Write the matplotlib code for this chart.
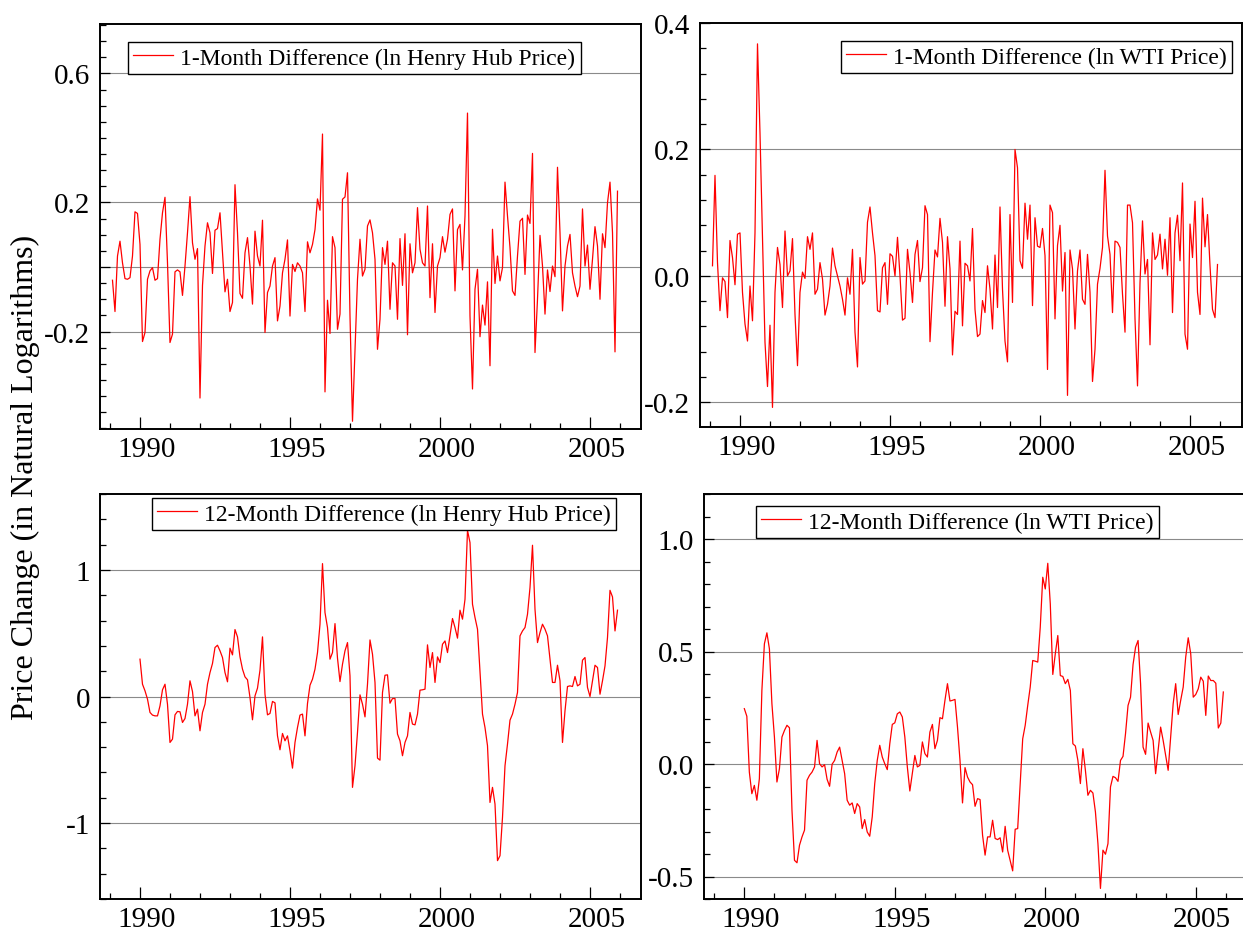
import numpy as np
import matplotlib.pyplot as plt
import matplotlib.transforms as mtransforms
from matplotlib.ticker import MultipleLocator

plt.rcParams['font.family'] = ['Liberation Serif', 'DejaVu Serif']

# 1-month log differences, Feb 1989 - Dec 2005
hh_1m = [
    -0.041, -0.138, 0.034, 0.080, 0.013, -0.036, -0.038, -0.033, 0.034, 0.171, 0.166,
    0.070, -0.231, -0.203, -0.038, -0.012, -0.002, -0.041, -0.036, 0.086, 0.168, 0.216, 0.013,
    -0.234, -0.208, -0.015, -0.009, -0.015, -0.088, 0.003, 0.106, 0.218, 0.075, 0.024, 0.057,
    -0.406, -0.057, 0.065, 0.137, 0.106, -0.020, 0.114, 0.119, 0.168, 0.044, -0.077, -0.038,
    -0.138, -0.110, 0.255, 0.106, -0.082, -0.097, 0.044, 0.091, 0.003, -0.115, 0.111, 0.034,
    0.003, 0.145, -0.203, -0.079, -0.059, 0.003, 0.029, -0.167, -0.121, -0.018, 0.024, 0.084,
    -0.152, 0.008, -0.014, 0.013, 0.003, -0.018, -0.138, 0.078, 0.044, 0.070, 0.116, 0.211,
    0.176, 0.412, -0.387, -0.103, -0.206, 0.094, 0.060, -0.193, -0.146, 0.210, 0.217, 0.292,
    -0.152, -0.478, -0.255, -0.038, 0.086, -0.028, -0.007, 0.127, 0.146, 0.106, 0.024, -0.255,
    -0.162, 0.060, 0.008, 0.080, -0.131, 0.013, 0.003, -0.162, 0.088, -0.057, 0.103, -0.210,
    0.072, -0.018, 0.013, 0.184, 0.055, 0.013, 0.003, 0.189, -0.095, 0.072, -0.141, 0.003,
    0.029, 0.094, 0.046, 0.086, 0.163, 0.180, -0.074, 0.116, 0.132, -0.009, 0.158, 0.477,
    -0.152, -0.378, -0.069, -0.007, -0.216, -0.118, -0.180, -0.046, -0.306, 0.117, -0.051, 0.034,
    -0.043, -0.002, 0.263, 0.158, 0.060, -0.074, -0.088, 0.034, 0.142, 0.151, -0.023, 0.161,
    0.135, 0.352, -0.265, -0.100, 0.098, 0.003, -0.146, -0.009, -0.076, 0.003, -0.030, 0.309,
    0.106, -0.136, 0.003, 0.065, 0.101, -0.018, -0.059, -0.092, -0.059, 0.180, 0.003, 0.068,
    -0.069, 0.024, 0.125, 0.065, -0.100, 0.103, 0.060, 0.199, 0.263, 0.106, -0.263, 0.235,
]

wti_1m = [
    0.016, 0.159, 0.021, -0.055, -0.003, -0.009, -0.066, 0.056, 0.029, -0.014, 0.066,
    0.068, -0.026, -0.076, -0.103, -0.016, -0.071, 0.068, 0.367, 0.226, 0.058, -0.105, -0.175,
    -0.078, -0.208, -0.026, 0.045, 0.018, -0.050, 0.071, 0.000, 0.008, 0.059, -0.061, -0.142,
    -0.026, 0.006, -0.004, 0.062, 0.042, 0.068, -0.029, -0.021, 0.021, -0.005, -0.062, -0.045,
    -0.016, 0.044, 0.016, 0.000, -0.016, -0.037, -0.062, -0.003, -0.029, 0.042, -0.089, -0.144,
    0.029, -0.013, -0.008, 0.085, 0.109, 0.068, 0.032, -0.055, -0.057, 0.013, 0.021, -0.045,
    0.035, 0.031, 0.000, 0.061, 0.000, -0.070, -0.067, 0.042, 0.005, -0.042, 0.034, 0.056,
    -0.009, 0.013, 0.111, 0.097, -0.104, -0.026, 0.041, 0.030, 0.091, 0.053, -0.048, 0.062,
    0.011, -0.125, -0.056, -0.061, 0.055, -0.079, 0.020, 0.016, -0.008, 0.075, -0.053, -0.096,
    -0.092, -0.039, -0.058, 0.016, -0.021, -0.084, 0.033, -0.050, 0.109, -0.021, -0.103, -0.136,
    0.097, -0.042, 0.200, 0.171, 0.024, 0.012, 0.115, 0.058, 0.112, -0.047, 0.092, 0.047,
    0.045, 0.075, 0.032, -0.148, 0.112, 0.100, -0.068, 0.048, 0.080, -0.024, 0.037, -0.189,
    0.041, 0.011, -0.084, 0.008, 0.041, -0.037, -0.045, 0.034, -0.026, -0.167, -0.116, -0.013,
    0.012, 0.045, 0.167, 0.063, 0.034, -0.058, 0.055, 0.053, 0.045, -0.029, -0.089, 0.112,
    0.112, 0.084, -0.068, -0.174, -0.011, 0.087, 0.003, 0.026, -0.109, 0.068, 0.026, 0.033,
    0.066, 0.011, 0.058, 0.001, 0.092, -0.058, 0.068, 0.096, 0.024, 0.147, -0.092, -0.116,
    0.082, 0.029, 0.118, -0.026, -0.061, 0.123, 0.046, 0.097, 0.016, -0.053, -0.066, 0.018,
]

# 12-month log differences, Jan 1990 - Dec 2005
hh_12m = [
    0.295, 0.097, 0.045, -0.021, -0.126, -0.147, -0.153, -0.153, -0.074, 0.053, 0.097, -0.061,
    -0.363, -0.337, -0.145, -0.118, -0.121, -0.205, -0.174, -0.061, 0.124, 0.039, -0.153, -0.100,
    -0.271, -0.126, -0.061, 0.097, 0.189, 0.261, 0.387, 0.405, 0.361, 0.308, 0.189, 0.116,
    0.382, 0.329, 0.529, 0.471, 0.313, 0.216, 0.155, 0.132, -0.008, -0.184, 0.005, 0.066,
    0.208, 0.471, 0.018, -0.145, -0.134, -0.039, -0.050, -0.311, -0.421, -0.292, -0.350, -0.311,
    -0.429, -0.566, -0.363, -0.245, -0.147, -0.139, -0.311, -0.055, 0.089, 0.137, 0.216, 0.347,
    0.571, 1.050, 0.663, 0.545, 0.295, 0.347, 0.576, 0.303, 0.118, 0.255, 0.361, 0.426,
    0.163, -0.718, -0.547, -0.284, 0.013, -0.061, -0.161, 0.097, 0.447, 0.334, 0.111, -0.487,
    -0.503, 0.032, 0.168, 0.171, -0.053, -0.016, -0.016, -0.297, -0.350, -0.468, -0.363, -0.311,
    -0.126, -0.218, -0.224, -0.139, 0.050, 0.053, 0.058, 0.408, 0.229, 0.347, 0.111, 0.313,
    0.268, 0.413, 0.439, 0.347, 0.479, 0.616, 0.545, 0.461, 0.682, 0.611, 0.768, 1.313,
    1.216, 0.729, 0.624, 0.532, 0.203, -0.139, -0.245, -0.389, -0.837, -0.718, -0.850, -1.297,
    -1.258, -0.955, -0.547, -0.376, -0.187, -0.139, -0.061, 0.032, 0.479, 0.518, 0.545, 0.650,
    0.861, 1.195, 0.689, 0.426, 0.505, 0.571, 0.532, 0.479, 0.295, 0.111, 0.111, 0.247,
    0.124, -0.363, -0.113, 0.079, 0.084, 0.079, 0.158, 0.084, 0.097, 0.287, 0.308, 0.071,
    0.000, 0.124, 0.247, 0.229, 0.018, 0.124, 0.242, 0.466, 0.839, 0.787, 0.518, 0.682,
]

wti_12m = [
    0.246, 0.212, -0.036, -0.132, -0.095, -0.161, -0.065, 0.327, 0.534, 0.583, 0.512, 0.268,
    0.120, -0.080, -0.021, 0.120, 0.149, 0.172, 0.161, -0.206, -0.428, -0.439, -0.361, -0.324,
    -0.294, -0.072, -0.050, -0.036, -0.013, 0.105, 0.001, -0.013, -0.003, -0.068, -0.099, -0.001,
    0.016, 0.053, 0.075, 0.016, -0.043, -0.161, -0.183, -0.173, -0.220, -0.176, -0.191, -0.287,
    -0.247, -0.302, -0.321, -0.235, -0.087, 0.016, 0.083, 0.031, 0.001, -0.025, 0.090, 0.176,
    0.183, 0.223, 0.231, 0.209, 0.120, -0.013, -0.120, -0.040, 0.038, -0.013, -0.006, 0.098,
    0.046, 0.031, 0.142, 0.176, 0.068, 0.105, 0.206, 0.201, 0.283, 0.357, 0.280, 0.283,
    0.287, 0.164, 0.016, -0.173, -0.016, -0.058, -0.080, -0.092, -0.188, -0.154, -0.158, -0.317,
    -0.405, -0.324, -0.324, -0.250, -0.331, -0.336, -0.328, -0.391, -0.277, -0.383, -0.428, -0.475,
    -0.290, -0.287, -0.087, 0.112, 0.172, 0.260, 0.342, 0.460, 0.457, 0.453, 0.608, 0.830,
    0.778, 0.892, 0.712, 0.398, 0.490, 0.571, 0.393, 0.389, 0.357, 0.376, 0.327, 0.090,
    0.080, 0.016, -0.087, 0.068, -0.028, -0.139, -0.117, -0.129, -0.213, -0.354, -0.553, -0.383,
    -0.401, -0.354, -0.102, -0.055, -0.061, -0.077, 0.016, 0.034, 0.135, 0.260, 0.297, 0.442,
    0.519, 0.549, 0.357, 0.075, 0.043, 0.182, 0.142, 0.105, -0.043, 0.061, 0.164, 0.105,
    0.038, -0.028, 0.120, 0.268, 0.357, 0.220, 0.283, 0.342, 0.475, 0.561, 0.490, 0.297,
    0.309, 0.334, 0.386, 0.368, 0.216, 0.391, 0.371, 0.371, 0.359, 0.160, 0.182, 0.320,
]

# dates as decimal years
t_1m = 1989 + (1 + np.arange(len(hh_1m))) / 12.0
t_12m = 1990 + np.arange(len(hh_12m)) / 12.0

year_ticks = [1990, 1995, 2000, 2005]

W, H = 1243, 937
fig = plt.figure(figsize=(W / 100, H / 100), dpi=100)


def px_rect(left, top, right, bottom):
    return [left / W, 1 - bottom / H, (right - left) / W, (bottom - top) / H]


def panel(rect, t, y, label, xlim, ylim, yticks, ylabels, grid, minor, leg_xy):
    ax = fig.add_axes(px_rect(*rect))
    for g in grid:
        ax.axhline(g, color='#8a8a8a', lw=0.8, zorder=1)
    ax.plot(t, y, color='red', lw=0.9, label=label, zorder=3)
    ax.set_xlim(*xlim)
    ax.set_ylim(*ylim)

    ax.set_xticks(year_ticks)
    ax.set_xticklabels([str(v) for v in year_ticks])
    ax.xaxis.set_minor_locator(MultipleLocator(1))
    ax.set_yticks(yticks)
    ax.set_yticklabels(ylabels)
    ax.yaxis.set_minor_locator(MultipleLocator(minor))

    ax.tick_params(which='both', direction='in', top=False, right=False,
                   labelsize=21, width=0.9, color='black')
    ax.tick_params(axis='x', which='major', length=8.5, pad=5)
    ax.tick_params(axis='y', which='major', length=7, pad=7)
    ax.tick_params(which='minor', length=4.3)
    for s in ax.spines.values():
        s.set_linewidth(1.4)

    # year labels sit a little right of their ticks in the original
    shift = mtransforms.ScaledTranslation(6.5 / 100, 0, fig.dpi_scale_trans)
    for lab in ax.get_xticklabels():
        lab.set_transform(lab.get_transform() + shift)

    leg = ax.legend(loc='upper left', bbox_to_anchor=(leg_xy[0] / W, 1 - leg_xy[1] / H),
                    bbox_transform=fig.transFigure, fontsize=17, frameon=True,
                    fancybox=False, edgecolor='black', framealpha=1, borderpad=0.22,
                    handlelength=1.7, handletextpad=0.3, borderaxespad=0)
    leg.get_frame().set_linewidth(1.0)
    return ax


panel((100, 25, 641, 430), t_1m, hh_1m, '1-Month Difference (ln Henry Hub Price)',
      (1988.667, 2006.7), (-0.502, 0.753), [-0.2, 0.0, 0.2, 0.6], ['-0.2', '', '0.2', '0.6'],
      [-0.2, 0.0, 0.2, 0.6], 0.05, (128, 43))

panel((700, 24, 1242, 428), t_1m, wti_1m, '1-Month Difference (ln WTI Price)',
      (1988.667, 2006.733), (-0.239, 0.4), [-0.2, 0.0, 0.2, 0.4], ['-0.2', '0.0', '0.2', '0.4'],
      [-0.2, 0.0, 0.2], 0.04, (841, 42))

panel((100, 495, 641, 900), t_12m, hh_12m, '12-Month Difference (ln Henry Hub Price)',
      (1988.667, 2006.7), (-1.6, 1.6), [-1, 0, 1], ['-1', '0', '1'],
      [-1, 0, 1], 0.2, (152, 499))

panel((704, 495, 1246, 900), t_12m, wti_12m, '12-Month Difference (ln WTI Price)',
      (1988.66, 2006.67), (-0.6, 1.2), [-0.5, 0.0, 0.5, 1.0], ['-0.5', '0.0', '0.5', '1.0'],
      [-0.5, 0.0, 0.5, 1.0], 0.1, (756, 507))

fig.text(25 / W, 1 - 477 / H, 'Price Change (in Natural Logarithms)', rotation=90,
         fontsize=23, ha='center', va='center')

fig.savefig('out.png', dpi=100)
